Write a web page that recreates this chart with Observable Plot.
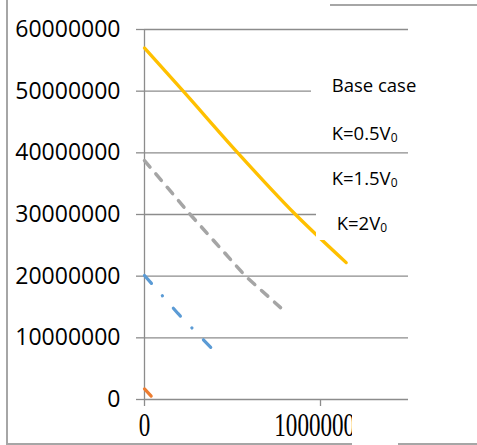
<!DOCTYPE html>
<html>
<head>
<meta charset="utf-8">
<script src="https://cdn.jsdelivr.net/npm/d3@7"></script>
<script src="https://cdn.jsdelivr.net/npm/@observablehq/plot@0.6"></script>
<style>
  html, body { margin: 0; padding: 0; background: #fff; }
  #wrap { position: relative; width: 477px; height: 445px; overflow: hidden; font-family: "Open Sans", sans-serif; }
  #chart { position: absolute; left: 0; top: 0; }
  .frame { position: absolute; background: #a6a6a6; }
  .leg { position: absolute; background: #fff; }
  .leg span.t { position: absolute; font-size: 18.5px; line-height: 25px; white-space: nowrap; color: #000; }
  .leg sub { font-size: 12px; vertical-align: -2px; line-height: 0; }
  .mask { position: absolute; background: #fff; }
</style>
</head>
<body>
<div id="wrap">
  <div id="chart"></div>
</div>
<script>
// ---- data ----
const seriesNames = ["Base case", "K=0.5V0", "K=1.5V0", "K=2V0"];
const seriesColors = ["#5B9BD5", "#ED7D31", "#A5A5A5", "#FFC000"];

const baseX = [0, 1900000, 3900000];
const baseY = [20100000, 13950000, 8050000];

const k05X = [0, 380000];
const k05Y = [1730000, 540000];

const k15X = [0, 2600000, 5740000, 7730000];
const k15Y = [38750000, 30000000, 20000000, 14900000];

const k2X = [0, 2200000, 5300000, 8580000, 11460000];
const k2Y = [57000000, 50000000, 40000000, 30000000, 22200000];

const xTicks = [0, 10000000];
const yTicks = [0, 10000000, 20000000, 30000000, 40000000, 50000000, 60000000];

const toRows = (xs, ys) => xs.map((x, i) => ({x, y: ys[i]}));
const grid = "#8c8c8c";

const plot = Plot.plot({
  width: 477,
  height: 445,
  marginLeft: 144,
  marginRight: 69,
  marginTop: 29,
  marginBottom: 46,
  style: {fontFamily: "Open Sans", background: "transparent", overflow: "visible", color: "#000"},
  x: {domain: [0, 15000000]},
  y: {domain: [0, 60000000]},
  marks: [
    Plot.ruleY(yTicks, {stroke: grid, strokeWidth: 1.3}),
    Plot.ruleX([0], {stroke: grid, strokeWidth: 1.3}),
    Plot.axisY(yTicks, {tickSize: 8, tickPadding: 16, fontSize: 23, stroke: grid, strokeWidth: 1.3, fill: "#000", tickFormat: d => String(d), label: null}),
    Plot.axisX(xTicks, {tickSize: 7, tickPadding: 6, fontSize: 33, fontFamily: "Liberation Serif", stroke: grid, strokeWidth: 1.3, fill: "#000", tickFormat: d => String(d), label: null}),
    Plot.line(toRows(k05X, k05Y), {x: "x", y: "y", stroke: seriesColors[1], strokeWidth: 3.2, strokeLinecap: "round"}),
    Plot.line(toRows(baseX, baseY), {x: "x", y: "y", stroke: seriesColors[0], strokeWidth: 3.2, strokeLinecap: "round", strokeDasharray: "10.5,16.5,0.1,16.5"}),
    Plot.line(toRows(k15X, k15Y), {x: "x", y: "y", stroke: seriesColors[2], strokeWidth: 3.5, strokeLinecap: "round", strokeDasharray: "8.5,9"}),
    Plot.line(toRows(k2X, k2Y), {x: "x", y: "y", stroke: seriesColors[3], strokeWidth: 3.3, curve: "monotone-x"})
  ]
});

// condensed serif look for x tick labels
d3.select(plot).selectAll('g[aria-label="x-axis tick label"] text').each(function() {
  const t = this.getAttribute("transform");
  if (t) {
    this.setAttribute("transform", t + " scale(0.7,1)");
  } else {
    const x = +this.getAttribute("x") || 0, y = +this.getAttribute("y") || 0;
    this.removeAttribute("x"); this.removeAttribute("y");
    this.setAttribute("transform", `translate(${x},${y}) scale(0.7,1)`);
  }
});

const wrap = document.getElementById("wrap");
document.getElementById("chart").appendChild(plot);

// legend entries (text only, on white boxes)
const legendBoxes = [
  {left: 311, top: 67, width: 130, height: 34, base: 91.7},
  {left: 311, top: 117, width: 130, height: 33, base: 140},
  {left: 311, top: 162, width: 130, height: 34, base: 185},
  {left: 316, top: 207, width: 125, height: 33, base: 230}
];
seriesNames.forEach((name, i) => {
  const b = legendBoxes[i];
  const d = document.createElement("div");
  d.className = "leg";
  Object.assign(d.style, {left: b.left + "px", top: b.top + "px", width: b.width + "px", height: b.height + "px"});
  const s = document.createElement("span");
  s.className = "t";
  s.style.left = "20.7px";
  s.style.top = (b.base - 19.8 - b.top) + "px";
  const m = name.match(/^(.*V)0$/);
  if (m) { s.textContent = m[1]; const sb = document.createElement("sub"); sb.textContent = "0"; s.appendChild(sb); }
  else s.textContent = name;
  d.appendChild(s);
  wrap.appendChild(d);
});

// clip of the last x label
const mask = document.createElement("div");
mask.className = "mask";
Object.assign(mask.style, {left: "352px", top: "407px", width: "46px", height: "38px"});
wrap.appendChild(mask);

// outer frame lines
[
  {left: 6, top: 0, width: 2, height: 445},
  {left: 6, top: 443, width: 346, height: 2},
  {left: 398, top: 443, width: 79, height: 2},
  {left: 330, top: 4, width: 147, height: 1.5}
].forEach(f => {
  const d = document.createElement("div");
  d.className = "frame";
  Object.assign(d.style, {left: f.left + "px", top: f.top + "px", width: f.width + "px", height: f.height + "px"});
  wrap.appendChild(d);
});
</script>
</body>
</html>
